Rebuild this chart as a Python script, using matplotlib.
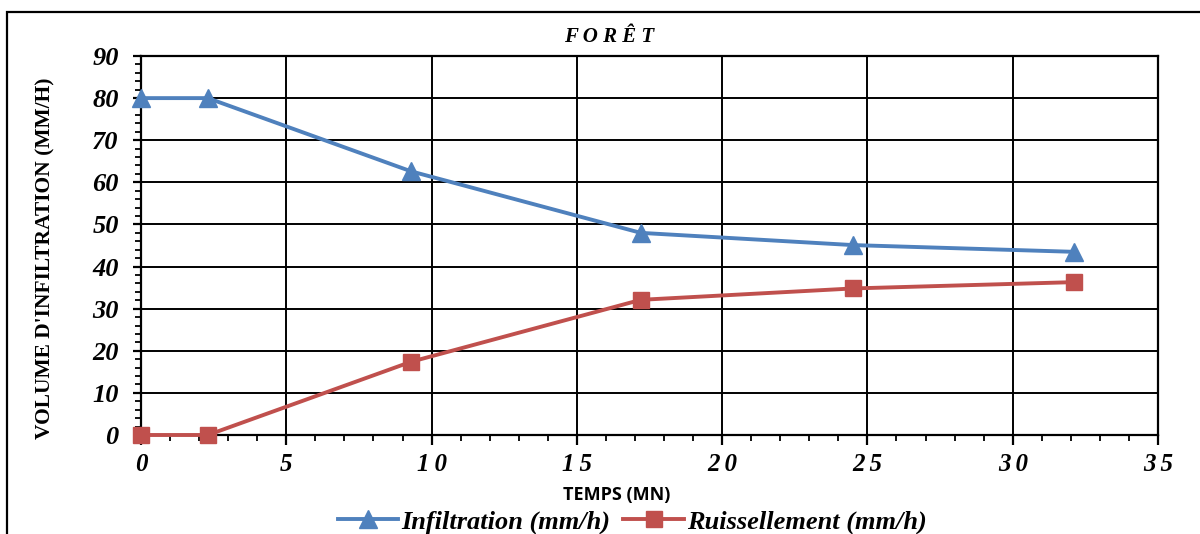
import matplotlib
matplotlib.use("Agg")
import matplotlib.pyplot as plt
from matplotlib.patches import Rectangle
from matplotlib.ticker import MultipleLocator

# ── Data ─────────────────────────────────────────────────────────────────────
temps = [0, 2.3, 9.3, 17.2, 24.5, 32.1]
infiltration = [80, 80, 62.6, 48, 45.1, 43.5]
ruissellement = [0, 0, 17.4, 32.1, 34.8, 36.3]
x_ticks = [0, 5, 10, 15, 20, 25, 30, 35]
y_ticks = [0, 10, 20, 30, 40, 50, 60, 70, 80, 90]

BLUE = "#4F81BD"
RED = "#C0504D"
SERIF = "Liberation Serif"
W, H = 1200, 534

fig = plt.figure(figsize=(12, 5.34), dpi=100)
ax = fig.add_axes([141 / W, 1 - 435 / H, (1158 - 141) / W, (435 - 56) / H])

# figure frame (cropped on right/bottom in the reference)
fig.patches.append(Rectangle((7 / W, -0.1), 1.2, 1 - 12 / H + 0.1,
                             transform=fig.transFigure, fill=False,
                             edgecolor="black", linewidth=1.6))

ax.plot(temps, infiltration, color=BLUE, lw=2.8, marker="^", ms=13,
        label="Infiltration (mm/h)", clip_on=False, zorder=4)
ax.plot(temps, ruissellement, color=RED, lw=2.8, marker="s", ms=11.5,
        label="Ruissellement (mm/h)", clip_on=False, zorder=4)

ax.set_xlim(0, 35)
ax.set_ylim(0, 90)
ax.set_xticks(x_ticks)
ax.set_yticks(y_ticks)
ax.xaxis.set_minor_locator(MultipleLocator(1))
ax.yaxis.set_minor_locator(MultipleLocator(2))
ax.set_xticklabels(["\u2009".join(str(t)) for t in x_ticks],
                   fontfamily=SERIF, fontweight="bold", fontstyle="italic", fontsize=18)
ax.set_yticklabels([str(t) for t in y_ticks],
                   fontfamily=SERIF, fontweight="bold", fontstyle="italic", fontsize=19)
ax.tick_params(axis="x", which="major", direction="out", length=7, width=1.6, color="black", pad=6)
ax.tick_params(axis="y", which="major", direction="out", length=6, width=1.6, color="black", pad=10)
ax.tick_params(axis="both", which="minor", direction="out", length=4, width=1.3, color="black")

ax.grid(True, which="major", color="black", lw=1.4)
for side in ["left", "bottom", "right", "top"]:
    ax.spines[side].set_linewidth(1.6)
    ax.spines[side].set_color("black")

fig.text(617 / W, 1 - 495 / H, "TEMPS (MN)", ha="center", va="center",
         fontfamily="Open Sans", fontweight="bold", fontsize=13)
fig.text(45 / W, 1 - 258 / H, "VOLUME D'INFILTRATION (MM/H)", ha="center", va="center",
         rotation=90, fontfamily=SERIF, fontweight="bold", fontsize=15.5)
fig.text(609 / W, 1 - 37 / H, "F O R Ê T", ha="center", va="center",
         fontfamily=SERIF, fontweight="bold", fontstyle="italic", fontsize=15)

fig.legend(loc="center", bbox_to_anchor=(632 / W, 1 - 522 / H), ncol=2, frameon=False,
           prop={"family": SERIF, "weight": "bold", "style": "italic", "size": 19},
           handlelength=2.3, handletextpad=0.1, columnspacing=0.5, borderpad=0)

plt.savefig("out.png", dpi=100)
